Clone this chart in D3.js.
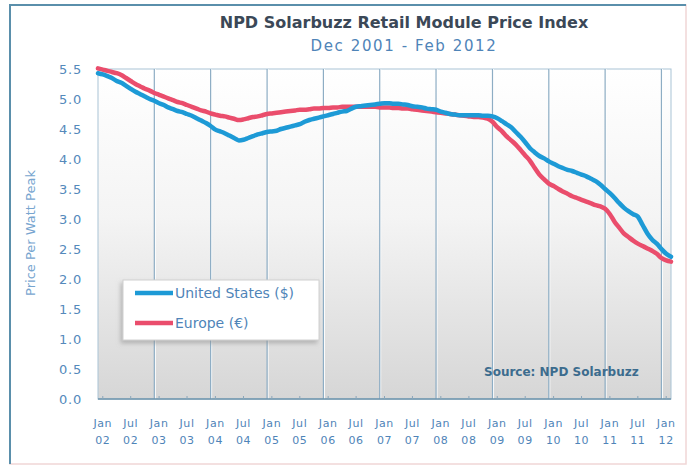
<!DOCTYPE html>
<html>
<head>
<meta charset="utf-8">
<script src="https://cdn.jsdelivr.net/npm/d3@7"></script>
<style>
  body { margin: 0; background: #fff; }
  svg text { font-family: "DejaVu Sans", sans-serif; }
</style>
</head>
<body>
<div id="chart"></div>
<script>
// monthly index values, Dec 2001 .. Feb 2012
const usPrice = [
  5.43,
  5.41, 5.38, 5.35, 5.30, 5.27, 5.22, 5.17, 5.12, 5.08, 5.04, 5.00, 4.97,
  4.93, 4.90, 4.86, 4.83, 4.80, 4.78, 4.75, 4.72, 4.68, 4.64, 4.60, 4.55,
  4.49, 4.46, 4.43, 4.39, 4.35, 4.31, 4.32, 4.35, 4.38, 4.41, 4.43, 4.45,
  4.46, 4.47, 4.50, 4.52, 4.54, 4.56, 4.58, 4.62, 4.65, 4.67, 4.69, 4.71,
  4.73, 4.75, 4.77, 4.79, 4.80, 4.84, 4.87, 4.88, 4.89, 4.90, 4.91, 4.92,
  4.93, 4.93, 4.92, 4.92, 4.91, 4.90, 4.88, 4.87, 4.86, 4.84, 4.83, 4.82,
  4.79, 4.77, 4.75, 4.74, 4.73, 4.73, 4.73, 4.73, 4.73, 4.72, 4.72, 4.71,
  4.68, 4.63, 4.58, 4.53, 4.45, 4.37, 4.28, 4.18, 4.11, 4.05, 4.01, 3.96,
  3.92, 3.88, 3.85, 3.82, 3.80, 3.77, 3.74, 3.71, 3.67, 3.63, 3.57, 3.50,
  3.43, 3.35, 3.27, 3.19, 3.13, 3.08, 3.04, 2.90, 2.76, 2.66, 2.59, 2.50,
  2.42, 2.37
];
const euPrice = [
  5.51,
  5.49, 5.47, 5.45, 5.43, 5.40, 5.35, 5.30, 5.25, 5.21, 5.17, 5.14, 5.10,
  5.07, 5.04, 5.01, 4.98, 4.95, 4.93, 4.90, 4.87, 4.84, 4.81, 4.79, 4.76,
  4.74, 4.72, 4.71, 4.69, 4.67, 4.65, 4.66, 4.68, 4.70, 4.71, 4.73, 4.75,
  4.76, 4.77, 4.78, 4.79, 4.80, 4.81, 4.82, 4.82, 4.83, 4.84, 4.84, 4.85,
  4.85, 4.86, 4.86, 4.87, 4.87, 4.87, 4.87, 4.87, 4.87, 4.87, 4.87, 4.86,
  4.86, 4.86, 4.85, 4.85, 4.84, 4.84, 4.83, 4.82, 4.81, 4.80, 4.79, 4.78,
  4.77, 4.76, 4.75, 4.74, 4.73, 4.72, 4.71, 4.70, 4.70, 4.69, 4.67, 4.62,
  4.53, 4.46, 4.38, 4.31, 4.24, 4.15, 4.06, 3.97, 3.85, 3.74, 3.66, 3.59,
  3.55, 3.50, 3.46, 3.42, 3.38, 3.35, 3.32, 3.29, 3.26, 3.23, 3.21, 3.17,
  3.08, 2.95, 2.86, 2.76, 2.70, 2.64, 2.59, 2.55, 2.51, 2.47, 2.42, 2.35,
  2.31, 2.29
];
const tickLabels = ["Jan 02","Jul 02","Jan 03","Jul 03","Jan 04","Jul 04","Jan 05","Jul 05",
  "Jan 06","Jul 06","Jan 07","Jul 07","Jan 08","Jul 08","Jan 09","Jul 09","Jan 10","Jul 10",
  "Jan 11","Jul 11","Jan 12"];
const yTicks = [0, 0.5, 1, 1.5, 2, 2.5, 3, 3.5, 4, 4.5, 5, 5.5];
const seriesNames = ["United States ($)", "Europe (€)"];

const months = d3.timeMonth.range(new Date(2001, 11, 1), new Date(2012, 2, 1));
const parseTick = d3.timeParse("%b %y");

const width = 696, height = 467;
const margin = { top: 69, right: 25, bottom: 68, left: 98 };

const svg = d3.select("#chart").append("svg")
  .attr("width", width).attr("height", height);

const defs = svg.append("defs");
const grad = defs.append("linearGradient").attr("id", "bg")
  .attr("x1", 0).attr("y1", 0).attr("x2", 0).attr("y2", 1);
grad.append("stop").attr("offset", "0%").attr("stop-color", "#ffffff");
grad.append("stop").attr("offset", "45%").attr("stop-color", "#f4f4f4");
grad.append("stop").attr("offset", "100%").attr("stop-color", "#d6d6d6");
const shadow = defs.append("filter").attr("id", "shadow")
  .attr("x", "-20%").attr("y", "-20%").attr("width", "140%").attr("height", "150%");
shadow.append("feDropShadow").attr("dx", -2).attr("dy", 3).attr("stdDeviation", 2)
  .attr("flood-color", "#888").attr("flood-opacity", 0.5);

// outer frame
svg.append("rect").attr("x", 10).attr("y", 5).attr("width", 676).attr("height", 459)
  .attr("fill", "#fff").attr("stroke", "#f0d6d6").attr("stroke-width", 1.5);
svg.append("path").attr("d", "M10,464V5H686")
  .attr("fill", "none").attr("stroke", "#5a8fab").attr("stroke-width", 2);

const x = d3.scaleTime()
  .domain([months[0], months[months.length - 1]])
  .range([margin.left, width - margin.right]);
const y = d3.scaleLinear().domain([0, 5.5]).range([height - margin.bottom, margin.top]);

const plotW = width - margin.right - margin.left;
const plotH = height - margin.bottom - margin.top;

svg.append("rect").attr("x", margin.left).attr("y", margin.top)
  .attr("width", plotW).attr("height", plotH)
  .attr("fill", "url(#bg)").attr("stroke", "#a9c4d6");

// yearly gridlines (December of each year)
const gridDates = d3.range(2002, 2012).map(yr => new Date(yr, 11, 1));
svg.append("g").selectAll("line").data(gridDates).join("line")
  .attr("x1", d => x(d) + 1).attr("x2", d => x(d) + 1)
  .attr("y1", margin.top).attr("y2", y(0))
  .attr("stroke", "#ffffff").attr("stroke-width", 1);
svg.append("g").selectAll("line").data(gridDates).join("line")
  .attr("x1", d => x(d)).attr("x2", d => x(d))
  .attr("y1", margin.top).attr("y2", y(0))
  .attr("stroke", "#8dadc4").attr("stroke-width", 1.2);

// x axis
const xAxis = svg.append("g").attr("transform", `translate(0,${y(0)})`);
xAxis.append("line").attr("x1", margin.left).attr("x2", width - margin.right)
  .attr("stroke", "#6e93ab").attr("stroke-width", 1.5);
const xt = xAxis.selectAll("g.tick").data(tickLabels).join("g")
  .attr("class", "tick")
  .attr("transform", d => `translate(${x(parseTick(d))},0)`);
xt.append("line").attr("y1", 0).attr("y2", -3).attr("stroke", "#8aa6ba");
xt.append("text").attr("y", 28).attr("text-anchor", "middle")
  .attr("font-size", 11).attr("letter-spacing", 0.6).attr("fill", "#4f84b8")
  .text(d => d.split(" ")[0]);
xt.append("text").attr("y", 45).attr("text-anchor", "middle")
  .attr("font-size", 11).attr("letter-spacing", 0.6).attr("fill", "#4f84b8")
  .text(d => d.split(" ")[1]);

// y axis labels
svg.append("g").selectAll("text").data(yTicks).join("text")
  .attr("x", 82).attr("y", d => y(d)).attr("dy", "0.36em")
  .attr("text-anchor", "end").attr("font-size", 13).attr("letter-spacing", 0.8)
  .attr("fill", "#5489bb")
  .text(d => d.toFixed(1));

svg.append("text")
  .attr("transform", `translate(35,233) rotate(-90)`)
  .attr("text-anchor", "middle").attr("font-size", 13).attr("fill", "#77a5cf")
  .text("Price Per Watt Peak");

// lines
const line = d3.line().x((d, i) => x(months[i])).y(d => y(d)).curve(d3.curveMonotoneX);
svg.append("path").datum(euPrice).attr("d", line)
  .attr("fill", "none").attr("stroke", "#ea4d6c").attr("stroke-width", 4.5)
  .attr("stroke-linejoin", "round").attr("stroke-linecap", "round");
svg.append("path").datum(usPrice).attr("d", line)
  .attr("fill", "none").attr("stroke", "#1d9ad6").attr("stroke-width", 4.5)
  .attr("stroke-linejoin", "round").attr("stroke-linecap", "round");

// title
svg.append("text").attr("x", 404).attr("y", 28).attr("text-anchor", "middle")
  .attr("font-size", 16).attr("font-weight", "bold").attr("fill", "#3b4857")
  .text("NPD Solarbuzz Retail Module Price Index");
svg.append("text").attr("x", 404).attr("y", 51).attr("text-anchor", "middle")
  .attr("font-size", 15).attr("letter-spacing", 1.6).attr("fill", "#4f84b8")
  .text("Dec 2001 - Feb 2012");

// legend
const legend = svg.append("g").attr("transform", "translate(123,280)");
legend.append("rect").attr("width", 196).attr("height", 60)
  .attr("fill", "#fff").attr("stroke", "#d0d0d0").attr("filter", "url(#shadow)");
const colors = ["#1d9ad6", "#ea4d6c"];
const li = legend.selectAll("g.item").data(seriesNames).join("g")
  .attr("class", "item")
  .attr("transform", (d, i) => `translate(0,${13 + i * 30})`);
li.append("line").attr("x1", 12).attr("x2", 50)
  .attr("stroke", (d, i) => colors[i]).attr("stroke-width", 4.5);
li.append("text").attr("x", 52).attr("dy", "0.36em")
  .attr("font-size", 14).attr("fill", "#4f84b8")
  .text(d => d);

svg.append("text").attr("x", 484).attr("y", 376)
  .attr("font-size", 12).attr("font-weight", "bold").attr("fill", "#3c6c8e")
  .text("Source: NPD Solarbuzz");
</script>
</body>
</html>
